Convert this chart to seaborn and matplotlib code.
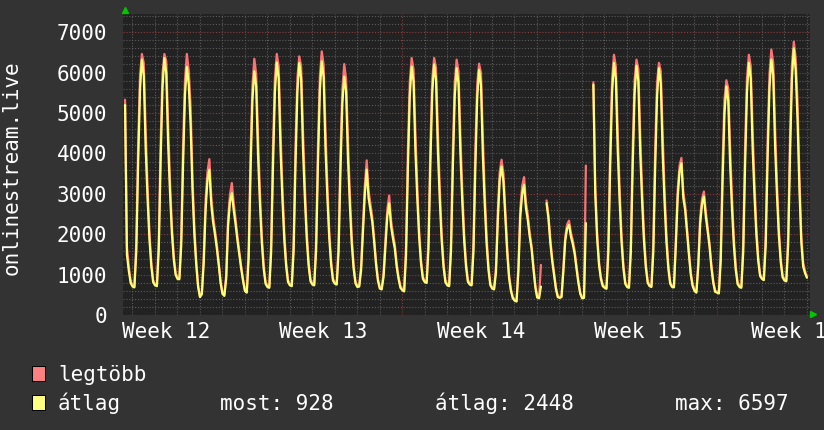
import numpy as np
import pandas as pd
import matplotlib
matplotlib.use('Agg')
import matplotlib.pyplot as plt
import matplotlib.transforms as mtransforms
from matplotlib.patches import Rectangle
import seaborn as sns

nan = np.nan

# sample hours inside each day (2 hour steps)
sample_hours = [0.25, 2.25, 4.25, 6.25, 8.25, 10.25, 12.25, 14.25, 16.25, 18.25, 20.25, 22.25]

# week 12: day -1 (partial) .. day 4
avg_w12 = [
    nan, nan, nan, nan, nan, nan, nan, nan, 5200, 1500, 1100, 800,
    710, 690, 1570, 3780, 5590, 6320, 5930, 4130, 2900, 1890, 1220, 820,
    740, 720, 1610, 3820, 5630, 6360, 5980, 4230, 3020, 2040, 1380, 1000,
    900, 890, 1730, 3780, 5460, 6140, 5700, 4700, 3100, 2000, 1250, 700,
    450, 520, 1300, 2600, 3350, 3600, 2750, 2300, 2000, 1650, 1250, 800,
    530, 480, 900, 2200, 2800, 3020, 2600, 2250, 1850, 1500, 1150, 850,
]
max_w12 = [
    nan, nan, nan, nan, nan, nan, nan, nan, 5330, 1700, 1200, 850,
    740, 720, 1820, 4230, 5940, 6460, 6230, 4580, 3200, 2070, 1320, 870,
    770, 750, 1860, 4270, 5980, 6460, 6280, 4680, 3320, 2220, 1480, 1050,
    930, 920, 1980, 4230, 5810, 6460, 6050, 5150, 3400, 2180, 1350, 750,
    470, 560, 1450, 2850, 3550, 3860, 2950, 2450, 2100, 1750, 1320, 850,
    560, 510, 1000, 2400, 2980, 3270, 2780, 2380, 1950, 1580, 1210, 890,
]

# week 13: day 5 .. day 11
avg_w13 = [
    600, 560, 1420, 3560, 5320, 6030, 5660, 3940, 2760, 1800, 1150, 780,
    700, 680, 1560, 3740, 5520, 6250, 5860, 4090, 2870, 1870, 1210, 820,
    740, 720, 1600, 3750, 5520, 6240, 5850, 4090, 2880, 1880, 1220, 840,
    760, 740, 1610, 3780, 5560, 6280, 5890, 4120, 2910, 1910, 1250, 860,
    780, 760, 1570, 3580, 5230, 5900, 5540, 3870, 2720, 1780, 1160, 790,
    700, 710, 1100, 2050, 3000, 3600, 2900, 2600, 2300, 1800, 1250, 850,
    660, 640, 950, 1700, 2450, 2770, 2200, 1900, 1650, 1200, 900, 680,
]
max_w13 = [
    630, 590, 1670, 4010, 5670, 6340, 5960, 4390, 3060, 1980, 1250, 830,
    730, 710, 1810, 4190, 5870, 6460, 6160, 4540, 3170, 2050, 1310, 870,
    770, 750, 1850, 4200, 5870, 6400, 6150, 4540, 3180, 2060, 1320, 890,
    790, 770, 1860, 4230, 5910, 6525, 6190, 4570, 3210, 2090, 1350, 910,
    810, 790, 1820, 4030, 5580, 6210, 5840, 4320, 3020, 1960, 1260, 840,
    730, 740, 1230, 2250, 3200, 3830, 3080, 2750, 2420, 1890, 1320, 900,
    690, 670, 1050, 1880, 2620, 2960, 2350, 2020, 1750, 1280, 950, 720,
]

# week 14: day 12 .. day 18
avg_w14 = [
    620, 590, 1480, 3650, 5430, 6150, 5780, 4060, 2880, 1920, 1270, 900,
    820, 800, 1660, 3770, 5500, 6200, 5820, 4060, 2850, 1860, 1200, 820,
    740, 720, 1570, 3680, 5410, 6110, 5730, 4010, 2830, 1860, 1210, 830,
    760, 740, 1580, 3670, 5380, 6070, 5690, 3950, 2750, 1770, 1120, 740,
    660, 640, 1050, 2350, 3350, 3680, 3300, 2400, 1550, 920, 600, 420,
    360, 340, 1100, 2450, 3000, 3225, 2650, 2350, 1950, 1650, 1150, 700,
    440, 420, 710, nan, nan, 2770, 2400, 1800, 1350, 1000, 650, 450,
]
max_w14 = [
    650, 620, 1730, 4100, 5780, 6360, 6080, 4510, 3180, 2100, 1370, 950,
    850, 830, 1910, 4220, 5850, 6360, 6120, 4510, 3150, 2040, 1300, 870,
    770, 750, 1820, 4130, 5760, 6320, 6030, 4460, 3130, 2040, 1310, 880,
    790, 770, 1830, 4120, 5730, 6220, 5990, 4400, 3050, 1950, 1220, 790,
    690, 670, 1200, 2600, 3550, 3845, 3500, 2600, 1680, 990, 650, 450,
    380, 360, 1250, 2650, 3200, 3415, 2800, 2480, 2050, 1720, 1220, 750,
    460, 440, 1245, nan, nan, 2840, 2480, 1900, 1420, 1060, 700, 480,
]

# week 15: day 19 .. day 25
avg_w15 = [
    430, 450, 1100, 1850, 2150, 2235, 1950, 1760, 1520, 1150, 800, 530,
    420, 430, 2280, nan, nan, nan, 5700, 3000, 1900, 1250, 900, 720,
    680, 655, 1540, 3720, 5510, 6240, 5850, 4070, 2840, 1840, 1170, 780,
    700, 680, 1550, 3700, 5460, 6170, 5790, 4030, 2830, 1840, 1180, 800,
    720, 700, 1560, 3670, 5410, 6110, 5730, 3990, 2790, 1810, 1160, 780,
    700, 690, 1700, 2900, 3550, 3760, 2900, 2600, 2050, 1500, 1000, 720,
    600, 560, 1200, 2250, 2750, 2940, 2450, 2080, 1700, 1180, 800, 580,
]
max_w15 = [
    450, 480, 1200, 1950, 2250, 2340, 2050, 1850, 1600, 1220, 850, 560,
    440, 450, 3700, nan, nan, nan, 5760, 3200, 2050, 1330, 950, 760,
    710, 685, 1790, 4170, 5860, 6440, 6150, 4520, 3140, 2020, 1270, 830,
    730, 710, 1800, 4150, 5810, 6320, 6090, 4480, 3130, 2020, 1280, 850,
    750, 730, 1810, 4120, 5760, 6240, 6030, 4440, 3090, 1990, 1260, 830,
    730, 720, 1850, 3100, 3700, 3890, 3050, 2720, 2150, 1580, 1060, 760,
    630, 590, 1320, 2420, 2880, 3060, 2580, 2180, 1780, 1250, 850, 610,
]

# week 16: day 26 .. day 30 (last sample only)
avg_w16 = [
    560, 540, 1350, 3350, 4990, 5660, 5310, 3710, 2620, 1720, 1120, 770,
    700, 680, 1560, 3730, 5520, 6240, 5860, 4140, 2960, 1990, 1340, 970,
    900, 870, 1730, 3860, 5610, 6320, 5940, 4180, 2970, 1980, 1320, 940,
    860, 840, 1750, 4000, 5850, 6597, 6050, 4800, 3100, 1800, 1200, 1040,
    928,
]
max_w16 = [
    590, 570, 1600, 3800, 5340, 5810, 5610, 4160, 2920, 1900, 1220, 820,
    730, 710, 1810, 4180, 5870, 6440, 6160, 4590, 3260, 2170, 1440, 1020,
    930, 900, 1980, 4310, 5960, 6570, 6240, 4630, 3270, 2160, 1420, 990,
    890, 870, 2000, 4450, 6200, 6765, 6350, 5250, 3400, 1980, 1300, 1090,
    960,
]

week_first_day = [-1, 5, 12, 19, 26]
week_names = ['Week 12', 'Week 13', 'Week 14', 'Week 15', 'Week 16']
week_mid = [1.5, 8.5, 15.5, 22.5, 29.5]
week_lines = [5, 12, 19, 26]

series_names = ['legtöbb', 'átlag']
series_colors = ['#FF7373', '#FFFF73']
stat_texts = ['most: 928', 'átlag: 2448', 'max: 6597']
ylabel = 'onlinestream.live'

rows = []
for first, a, m in zip(week_first_day,
                       [avg_w12, avg_w13, avg_w14, avg_w15, avg_w16],
                       [max_w12, max_w13, max_w14, max_w15, max_w16]):
    for i, (va, vm) in enumerate(zip(a, m)):
        rows.append((first + i // 12 + sample_hours[i % 12] / 24, va, vm))
df = pd.DataFrame(rows, columns=['day', 'avg', 'max'])
df['seg'] = df['avg'].isna().cumsum()
df = df.dropna()

sns.set_style('dark')
plt.rcParams['font.family'] = ['DejaVu Sans Mono', 'DejaVu Sans']

fig = plt.figure(figsize=(8.24, 4.30), dpi=100, facecolor='#333333')
W, H = 824, 430
ax = fig.add_axes([123 / W, 1 - 315.3 / H, 687 / W, (315.3 - 13.5) / H])
ax.set_facecolor('#222222')

sns.lineplot(data=df, x='day', y='max', units='seg', estimator=None, sort=False,
             color=series_colors[0], lw=1.6, ax=ax, legend=False)
sns.lineplot(data=df, x='day', y='avg', units='seg', estimator=None, sort=False,
             color=series_colors[1], lw=1.6, ax=ax, legend=False)

ax.set_xlim(-0.414, 30.147)
ax.set_ylim(0, 7460)
ax.set_xticks(week_lines)
ax.set_xticks(range(0, 31), minor=True)
ax.set_xticklabels([])
ax.set_yticks(range(0, 7001, 1000))
ax.set_yticks(range(0, 7460, 200), minor=True)
ax.set_axisbelow(True)
ax.grid(which='major', color='#8C3C3C', linestyle=(0, (1, 1.6)), linewidth=0.8)
ax.grid(which='minor', color='#5C5C5C', linestyle=(0, (1, 1.6)), linewidth=0.8)
ax.tick_params(axis='y', which='both', length=0, pad=11.5, labelsize=15, labelcolor='white')
ax.tick_params(axis='x', which='major', length=3, width=0.75, color='#8C3C3C', direction='out')
ax.tick_params(axis='x', which='minor', length=3, width=0.75, color='#5C5C5C', direction='out')
ax.set_xlabel('')
ax.set_ylabel('')
for s in ax.spines.values():
    s.set_visible(False)

trans = mtransforms.blended_transform_factory(ax.transData, ax.transAxes)
for x, name in zip(week_mid, week_names):
    ax.text(x, -0.0762, name, transform=trans, ha='center', va='baseline',
            fontsize=15, color='white', clip_on=False)

# axis arrows
ax.plot([0.0029], [1.010], marker='^', color='#00C800', ms=4, transform=ax.transAxes, clip_on=False)
ax.plot([1.0048], [0.0027], marker='>', color='#00C800', ms=4, transform=ax.transAxes, clip_on=False)

fig.text(12 / W, 1 - 168 / H, ylabel, rotation=90, ha='center', va='center',
         fontsize=15, color='white')

# legend
legend_fill = ['#FF8080', '#FFFF80']
for k, (name, col) in enumerate(zip(series_names, legend_fill)):
    top = 366 + k * 28.5
    fig.add_artist(Rectangle((32 / W, 1 - (top + 15) / H), 13 / W, 15 / H,
                             transform=fig.transFigure, facecolor=col,
                             edgecolor='black', lw=0.75))
    fig.text(58 / W, 1 - (top + 15) / H, name, ha='left', va='baseline',
             fontsize=15, color='white')
for x, t in zip([220, 435, 675], stat_texts):
    fig.text(x / W, 1 - 409.5 / H, t, ha='left', va='baseline', fontsize=15, color='white')

fig.savefig('out.png', dpi=100, facecolor=fig.get_facecolor())
